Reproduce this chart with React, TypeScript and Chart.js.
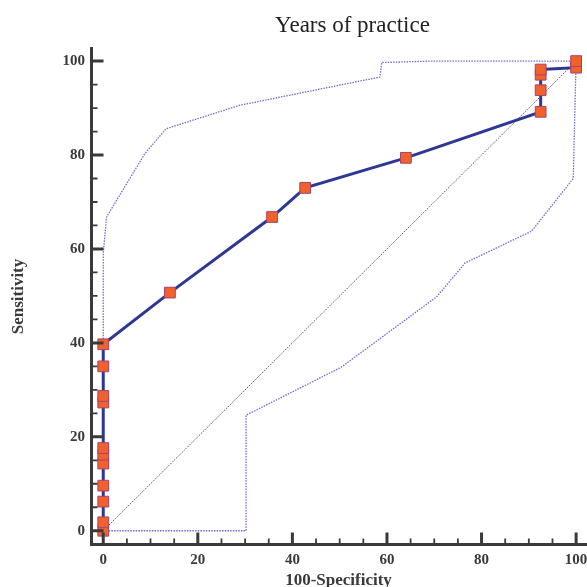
import React, { useEffect, useRef } from 'react';
import { Chart, registerables } from 'chart.js';

Chart.register(...registerables);

const TITLE = 'Years of practice';
const X_LABEL = '100-Specificity';
const Y_LABEL = 'Sensitivity';

const ROC_X = [0, 0, 0, 0, 0, 0, 0, 0, 0, 0, 0, 14.1, 35.7, 42.7, 64.0, 92.5, 92.5, 92.5, 92.5, 100, 100];
const ROC_Y = [0, 1.8, 6.2, 9.6, 14.3, 16.2, 17.6, 27.3, 28.7, 35.0, 39.7, 50.7, 66.8, 73.0, 79.4, 89.2, 93.8, 97.1, 98.2, 98.6, 100];

const UPPER_X = [0, 0, 0.7, 8.8, 13.3, 28.9, 58.5, 58.9, 69.4, 100];
const UPPER_Y = [0, 59, 66.8, 80.3, 85.6, 90.6, 96.6, 99.7, 100, 100];

const LOWER_X = [0, 30.2, 30.2, 50.3, 70.5, 76.5, 90.6, 99.4, 99.7, 100];
const LOWER_Y = [0, 0, 24.6, 34.8, 49.8, 57.0, 63.8, 75.0, 88.0, 100];

const DIAG_X = [0, 100];
const DIAG_Y = [0, 100];

const TICK_VALUES = [0, 20, 40, 60, 80, 100];
const MINOR_STEP = 5;

const toPts = (xs: number[], ys: number[]) => xs.map((x, i) => ({ x, y: ys[i] }));

const AXIS_COLOR = '#3a3a3a';
const FONT_FAMILY = "'Liberation Serif', 'Times New Roman', serif";

const axesPlugin = {
  id: 'customAxes',
  afterDraw(chart: any) {
    const { ctx, chartArea, scales } = chart;
    const xs = scales.x;
    const ys = scales.y;
    ctx.save();
    ctx.strokeStyle = AXIS_COLOR;
    ctx.lineCap = 'butt';
    // spines
    ctx.lineWidth = 3;
    const left = chartArea.left + 1.5;
    const bottom = chartArea.bottom - 1.5;
    ctx.beginPath();
    ctx.moveTo(left, chartArea.top);
    ctx.lineTo(left, chartArea.bottom);
    ctx.moveTo(chartArea.left, bottom);
    ctx.lineTo(chartArea.right, bottom);
    ctx.stroke();
    // ticks
    for (let v = 0; v <= 100; v += MINOR_STEP) {
      const major = v % 20 === 0;
      const len = major ? 12 : 6;
      ctx.lineWidth = major ? 3 : 1.8;
      const py = ys.getPixelForValue(v);
      const px = xs.getPixelForValue(v);
      ctx.beginPath();
      ctx.moveTo(chartArea.left, py);
      ctx.lineTo(chartArea.left + 1.5 + len, py);
      ctx.moveTo(px, chartArea.bottom);
      ctx.lineTo(px, chartArea.bottom - 1.5 - len);
      ctx.stroke();
    }
    // title
    ctx.fillStyle = '#222';
    ctx.font = `23px ${FONT_FAMILY}`;
    ctx.textAlign = 'center';
    ctx.textBaseline = 'middle';
    ctx.fillText(TITLE, (chartArea.left + chartArea.right) / 2 + 14, 26);
    ctx.restore();
  },
};

export default function App() {
  const ref = useRef<HTMLCanvasElement | null>(null);

  useEffect(() => {
    document.body.style.margin = '0';
    const canvas = ref.current;
    if (!canvas) return;
    const tickFont = { family: FONT_FAMILY, size: 15, weight: 'bold' as const };
    const chart = new Chart(canvas, {
      type: 'scatter',
      data: {
        datasets: [
          {
            label: 'ROC',
            data: toPts(ROC_X, ROC_Y),
            showLine: true,
            borderColor: '#2e3796',
            borderWidth: 3,
            pointStyle: 'rect',
            pointRadius: 7.6,
            pointBackgroundColor: '#f1622a',
            pointBorderColor: '#a8426f',
            pointBorderWidth: 1,
          },
          {
            label: 'Upper',
            data: toPts(UPPER_X, UPPER_Y),
            showLine: true,
            borderColor: '#6c6cd8',
            borderWidth: 1.3,
            borderDash: [1.5, 1.2],
            pointRadius: 0,
          },
          {
            label: 'Lower',
            data: toPts(LOWER_X, LOWER_Y),
            showLine: true,
            borderColor: '#6c6cd8',
            borderWidth: 1.3,
            borderDash: [1.5, 1.2],
            pointRadius: 0,
          },
          {
            label: 'Diagonal',
            data: toPts(DIAG_X, DIAG_Y),
            showLine: true,
            borderColor: '#555',
            borderWidth: 1,
            borderDash: [1.5, 1.2],
            pointRadius: 0,
          },
        ],
      },
      options: {
        animation: false,
        responsive: false,
        maintainAspectRatio: false,
        layout: { autoPadding: false, padding: { top: 47, left: 0, right: 0, bottom: 0 } },
        plugins: {
          legend: { display: false },
          tooltip: { enabled: false },
          title: { display: false },
        },
        scales: {
          x: {
            type: 'linear',
            min: -2.8,
            max: 102.3,
            grid: { display: false, drawTicks: false },
            border: { display: false },
            ticks: { font: tickFont, color: AXIS_COLOR, padding: 5, maxRotation: 0 },
            title: {
              display: true,
              text: X_LABEL,
              font: { family: FONT_FAMILY, size: 17, weight: 'bold' },
              color: AXIS_COLOR,
              padding: { top: 0, bottom: -4 },
            },
            afterBuildTicks: (s: any) => {
              s.ticks = TICK_VALUES.map((v) => ({ value: v }));
            },
            afterFit: (s: any) => {
              s.height = 41;
              s.paddingLeft = 0;
              s.paddingRight = 0;
            },
          },
          y: {
            type: 'linear',
            min: -3.25,
            max: 103,
            grid: { display: false, drawTicks: false },
            border: { display: false },
            ticks: { font: tickFont, color: AXIS_COLOR, padding: 5 },
            title: {
              display: true,
              text: Y_LABEL,
              font: { family: FONT_FAMILY, size: 17, weight: 'bold' },
              color: AXIS_COLOR,
              padding: { top: 8, bottom: 0 },
            },
            afterBuildTicks: (s: any) => {
              s.ticks = TICK_VALUES.map((v) => ({ value: v }));
            },
            afterFit: (s: any) => {
              s.width = 90;
              s.paddingTop = 0;
              s.paddingBottom = 0;
            },
          },
        },
      },
      plugins: [axesPlugin],
    });
    return () => chart.destroy();
  }, []);

  return (
    <div style={{ width: 587, height: 587, background: '#fff' }}>
      <canvas ref={ref} width={587} height={587} style={{ display: 'block' }} />
    </div>
  );
}
